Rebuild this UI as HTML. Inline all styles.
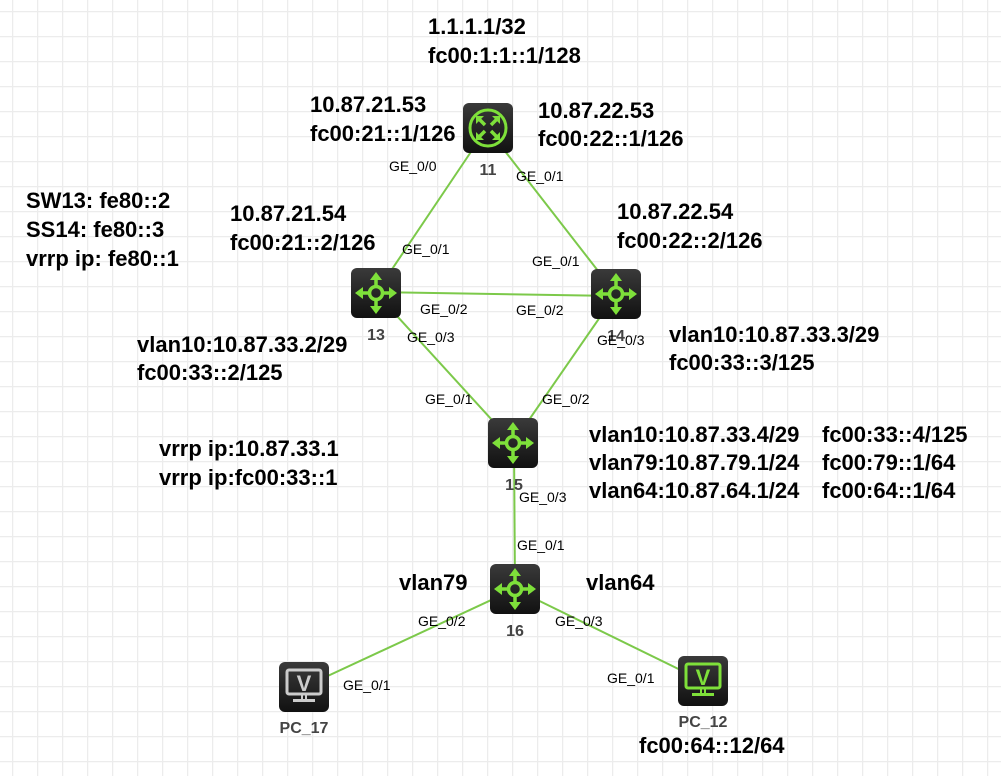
<!DOCTYPE html>
<html><head><meta charset="utf-8"><style>
html,body{margin:0;padding:0;background:#fff}
svg{display:block}
text{font-family:"Liberation Sans",Arial,sans-serif}
.b{font-size:22px;font-weight:bold;fill:#000}
.s{font-size:14px;fill:#000}
.n{font-size:16px;font-weight:bold;fill:#444}
</style></head><body>
<svg width="1001" height="776" viewBox="0 0 1001 776" xmlns="http://www.w3.org/2000/svg">
<defs>
<pattern id="g" x="0" y="0" width="25" height="25" patternUnits="userSpaceOnUse" patternTransform="translate(12,11)">
<path d="M0 0H25M0 0V25" stroke="#ececec" stroke-width="2.5" fill="none"/>
</pattern>
<linearGradient id="bg" x1="0" y1="0" x2="0" y2="1"><stop offset="0" stop-color="#3a3a3a"/><stop offset="1" stop-color="#111"/></linearGradient>
<g id="sw">
<rect x="-25" y="-25" width="50" height="50" rx="6" fill="url(#bg)"/>
<circle r="6.5" fill="none" stroke="#7ee03a" stroke-width="3.5"/>
<g stroke="#7ee03a" stroke-width="3.5">
<line x1="0" y1="-7" x2="0" y2="-15"/><line x1="0" y1="7" x2="0" y2="15"/>
<line x1="-7" y1="0" x2="-15" y2="0"/><line x1="7" y1="0" x2="15" y2="0"/></g>
<g fill="#7ee03a">
<path d="M0 -21 L-6 -13 L6 -13Z"/><path d="M0 21 L-6 13 L6 13Z"/>
<path d="M-21 0 L-13 -6 L-13 6Z"/><path d="M21 0 L13 -6 L13 6Z"/></g>
</g>
<g id="rt">
<rect x="-25" y="-25" width="50" height="50" rx="6" fill="url(#bg)"/>
<circle r="18" fill="none" stroke="#7ee03a" stroke-width="3"/>
<g stroke="#7ee03a" stroke-width="3.5" fill="none">
<path d="M-10 -10 L-3 -3 M10 -10 L3 -3 M-10 10 L-3 3 M10 10 L3 3"/></g>
<g fill="#7ee03a">
<path d="M-12 -12 L-4 -12 L-12 -4Z"/><path d="M12 -12 L4 -12 L12 -4Z"/>
<path d="M-12 12 L-4 12 L-12 4Z"/><path d="M12 12 L4 12 L12 4Z"/></g>
</g>
</defs>
<rect width="1001" height="776" fill="url(#g)"/>
<g stroke="#7cc94a" stroke-width="2">
<line x1="487" y1="128" x2="376" y2="293"/>
<line x1="487" y1="128" x2="616" y2="294"/>
<line x1="376" y1="292" x2="616" y2="296"/>
<line x1="376" y1="293" x2="513" y2="443"/>
<line x1="616" y1="294" x2="513" y2="443"/>
<line x1="514" y1="443" x2="515" y2="589"/>
<line x1="515" y1="589" x2="304" y2="687"/>
<line x1="515" y1="589" x2="703" y2="681"/>
</g>
<use href="#rt" x="488" y="128"/>
<use href="#sw" x="376" y="293"/>
<use href="#sw" x="616" y="294"/>
<use href="#sw" x="513" y="443"/>
<use href="#sw" x="515" y="589"/>
<g transform="translate(304,687)">
<rect x="-25" y="-25" width="50" height="50" rx="6" fill="url(#bg)"/>
<rect x="-17" y="-17" width="34" height="24" rx="2" fill="none" stroke="#ccc" stroke-width="3"/>
<text x="0" y="4" text-anchor="middle" font-size="22" font-weight="bold" fill="#ccc">V</text>
<path d="M-2 8 V12 M2 8 V12" stroke="#ccc" stroke-width="2"/><rect x="-11" y="12" width="22" height="3" fill="#ccc"/>
</g>
<g transform="translate(703,681)">
<rect x="-25" y="-25" width="50" height="50" rx="6" fill="url(#bg)"/>
<rect x="-17" y="-17" width="34" height="24" rx="2" fill="none" stroke="#7ee03a" stroke-width="3"/>
<text x="0" y="4" text-anchor="middle" font-size="22" font-weight="bold" fill="#7ee03a">V</text>
<path d="M-2 8 V12 M2 8 V12" stroke="#7ee03a" stroke-width="2"/><rect x="-11" y="12" width="22" height="3" fill="#7ee03a"/>
</g>
<text class="n" x="488" y="175" text-anchor="middle">11</text>
<text class="n" x="376" y="340" text-anchor="middle">13</text>
<text class="n" x="616" y="341" text-anchor="middle">14</text>
<text class="n" x="514" y="490" text-anchor="middle">15</text>
<text class="n" x="515" y="636" text-anchor="middle">16</text>
<text class="n" x="304" y="733" text-anchor="middle">PC_17</text>
<text class="n" x="703" y="727" text-anchor="middle">PC_12</text>
<text class="s" x="389" y="171">GE_0/0</text>
<text class="s" x="516" y="181">GE_0/1</text>
<text class="s" x="402" y="254">GE_0/1</text>
<text class="s" x="532" y="266">GE_0/1</text>
<text class="s" x="420" y="314">GE_0/2</text>
<text class="s" x="516" y="315">GE_0/2</text>
<text class="s" x="407" y="342">GE_0/3</text>
<text class="s" x="597" y="345">GE_0/3</text>
<text class="s" x="425" y="404">GE_0/1</text>
<text class="s" x="542" y="404">GE_0/2</text>
<text class="s" x="519" y="502">GE_0/3</text>
<text class="s" x="517" y="550">GE_0/1</text>
<text class="s" x="418" y="626">GE_0/2</text>
<text class="s" x="555" y="626">GE_0/3</text>
<text class="s" x="343" y="690">GE_0/1</text>
<text class="s" x="607" y="683">GE_0/1</text>
<text class="b" x="428" y="34">1.1.1.1/32</text>
<text class="b" x="428" y="63">fc00:1:1::1/128</text>
<text class="b" x="310" y="112">10.87.21.53</text>
<text class="b" x="310" y="141">fc00:21::1/126</text>
<text class="b" x="538" y="118">10.87.22.53</text>
<text class="b" x="538" y="146">fc00:22::1/126</text>
<text class="b" x="26" y="208">SW13: fe80::2</text>
<text class="b" x="26" y="237">SS14: fe80::3</text>
<text class="b" x="26" y="266">vrrp ip: fe80::1</text>
<text class="b" x="230" y="221">10.87.21.54</text>
<text class="b" x="230" y="250">fc00:21::2/126</text>
<text class="b" x="617" y="219">10.87.22.54</text>
<text class="b" x="617" y="248">fc00:22::2/126</text>
<text class="b" x="137" y="352">vlan10:10.87.33.2/29</text>
<text class="b" x="137" y="380">fc00:33::2/125</text>
<text class="b" x="669" y="342">vlan10:10.87.33.3/29</text>
<text class="b" x="669" y="370">fc00:33::3/125</text>
<text class="b" x="159" y="456">vrrp ip:10.87.33.1</text>
<text class="b" x="159" y="485">vrrp ip:fc00:33::1</text>
<text class="b" x="589" y="442">vlan10:10.87.33.4/29</text>
<text class="b" x="589" y="470">vlan79:10.87.79.1/24</text>
<text class="b" x="589" y="498">vlan64:10.87.64.1/24</text>
<text class="b" x="822" y="442">fc00:33::4/125</text>
<text class="b" x="822" y="470">fc00:79::1/64</text>
<text class="b" x="822" y="498">fc00:64::1/64</text>
<text class="b" x="399" y="590">vlan79</text>
<text class="b" x="586" y="590">vlan64</text>
<text class="b" x="639" y="753">fc00:64::12/64</text>
</svg>
</body></html>
